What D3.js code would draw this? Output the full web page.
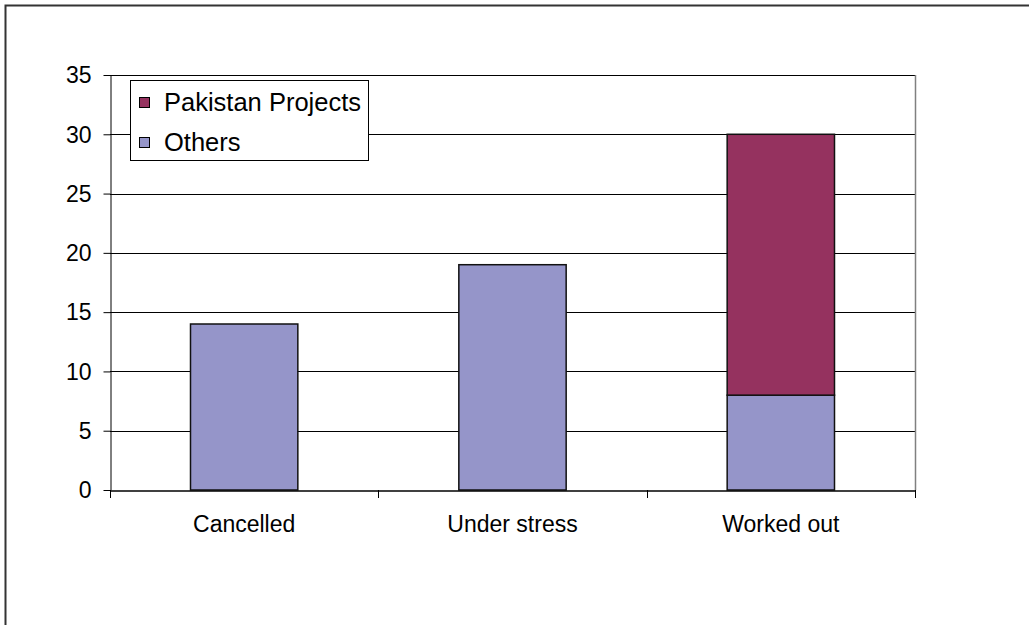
<!DOCTYPE html>
<html>
<head>
<meta charset="utf-8">
<script src="https://cdn.jsdelivr.net/npm/d3@7"></script>
<style>
html,body{margin:0;padding:0;background:#fff;}
svg{display:block;}
text{font-family:"Liberation Sans",Arial,sans-serif;fill:#000;}
</style>
</head>
<body>
<svg id="chart" width="1029" height="625"></svg>
<script>
const categories = ["Cancelled", "Under stress", "Worked out"];
const others = [14, 19, 8];
const pakistan = [0, 0, 22];
const yTicks = [0, 5, 10, 15, 20, 25, 30, 35];
const seriesNames = ["Pakistan Projects", "Others"];
const colors = {others: "#9595c9", pakistan: "#95325f"};

const svg = d3.select("#chart");
svg.append("rect").attr("x", 5.5).attr("y", 5.5).attr("width", 1040).attr("height", 640)
  .attr("fill", "#fff").attr("stroke", "#333").attr("stroke-width", 2);

const pLeft = 110, pRight = 915, pTop = 75, pBottom = 490;
const x = d3.scaleBand().domain(categories).range([pLeft, pRight]).paddingInner(0.6).paddingOuter(0.3);
const xb = d3.scaleBand().domain(categories).range([pLeft, pRight]);
const y = d3.scaleLinear().domain([0, 35]).range([pBottom, pTop]);

// gridlines
svg.append("g").selectAll("line").data(yTicks.filter(d => d > 0)).join("line")
  .attr("x1", pLeft).attr("x2", pRight)
  .attr("y1", d => Math.round(y(d)) + 0.5).attr("y2", d => Math.round(y(d)) + 0.5)
  .attr("stroke", "#000").attr("stroke-width", 1);

// right plot border
svg.append("line").attr("x1", pRight + 0.5).attr("x2", pRight + 0.5).attr("y1", pTop).attr("y2", pBottom)
  .attr("stroke", "#808080").attr("stroke-width", 1.5);

// bars
const stack = categories.map((c, i) => ({c, o: others[i], p: pakistan[i]}));
svg.append("g").selectAll("rect").data(stack).join("rect")
  .attr("x", d => x(d.c)).attr("width", x.bandwidth())
  .attr("y", d => y(d.o)).attr("height", d => y(0) - y(d.o))
  .attr("fill", colors.others).attr("stroke", "#111").attr("stroke-width", 1.5);
svg.append("g").selectAll("rect").data(stack.filter(d => d.p > 0)).join("rect")
  .attr("x", d => x(d.c)).attr("width", x.bandwidth())
  .attr("y", d => y(d.o + d.p)).attr("height", d => y(d.o) - y(d.o + d.p))
  .attr("fill", colors.pakistan).attr("stroke", "#111").attr("stroke-width", 1.5);

// y axis
const yAxis = d3.axisLeft(y).tickValues(yTicks).tickSize(7).tickPadding(12).tickSizeOuter(0);
const gy = svg.append("g").attr("transform", `translate(${pLeft + 0.5},0)`).call(yAxis);
gy.selectAll("text").style("font-size", "23px").style("font-family", "'Liberation Sans', Arial, sans-serif").attr("dy", "0.34em");
gy.select(".domain").attr("stroke", "#000");
gy.selectAll(".tick line").attr("stroke", "#000");

// x axis
const gx = svg.append("g").attr("transform", `translate(0,${pBottom + 0.5})`)
  .call(d3.axisBottom(xb).tickSize(0).tickPadding(25).tickSizeOuter(0));
gx.select(".domain").attr("stroke", "#000").attr("stroke-width", 1.5);
gx.selectAll("text").style("font-size", "23px").style("font-family", "'Liberation Sans', Arial, sans-serif");
// x tick marks at band boundaries
const bounds = categories.map(c => xb(c)).concat([pRight]);
svg.append("g").selectAll("line").data(bounds).join("line")
  .attr("x1", d => Math.round(d) + 0.5).attr("x2", d => Math.round(d) + 0.5)
  .attr("y1", pBottom).attr("y2", pBottom + 8).attr("stroke", "#000");

// legend
const lg = svg.append("g");
lg.append("rect").attr("x", 130.5).attr("y", 80.5).attr("width", 238).attr("height", 80)
  .attr("fill", "#fff").attr("stroke", "#000").attr("stroke-width", 1);
const legendColors = [colors.pakistan, colors.others];
seriesNames.forEach((n, i) => {
  const yy = 97 + i * 40;
  lg.append("rect").attr("x", 139.5).attr("y", yy + 0.5).attr("width", 10).attr("height", 10)
    .attr("fill", legendColors[i]).attr("stroke", "#000").attr("stroke-width", 1);
  lg.append("text").attr("x", 164).attr("y", yy + 13.5).style("font-size", "25.5px").text(n);
});
</script>
</body>
</html>
